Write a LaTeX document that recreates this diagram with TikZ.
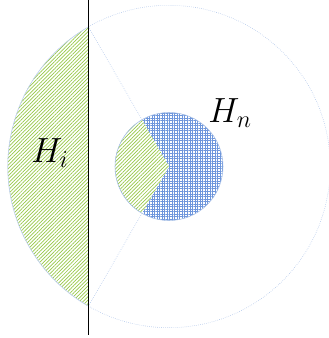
\documentclass[tikz,border=0pt]{standalone}
\usepackage{tikz}
\usepackage{xcolor}
\usetikzlibrary{patterns,patterns.meta}

\definecolor{hgreen}{RGB}{150,200,70}
\definecolor{hblue}{RGB}{110,150,220}
\definecolor{rimblue}{RGB}{165,190,230}

\begin{document}
\begin{tikzpicture}[
  greenhatch/.style={pattern={Lines[angle=45,distance=1.8pt,line width=0.5pt]},
                     pattern color=hgreen},
  bluehatch/.style={pattern={Hatch[angle=0,distance=1.8pt,line width=0.35pt]},
                    pattern color=hblue},
  rim/.style={draw=rimblue, line width=0.4pt, densely dotted},
  label/.style={inner sep=0pt, anchor=base west, font=\fontsize{26}{31}\selectfont}
]
\useasboundingbox (-4.225,-4.2875) rectangle (4.0,4.1625);

\coordinate (o) at (0,0);
\coordinate (a) at (120:4.03);
\coordinate (b) at (240:4.03);
\coordinate (lt) at (-2.015,4.1625);
\coordinate (lb) at (-2.015,-4.2);

% outer region and the cut-off cap
\draw[rim] (o) circle (4.03);
\fill[greenhatch] (a) arc (120:240:4.03) -- cycle;
\draw[rim, solid, draw=rimblue!70] (a) arc (120:240:4.03);

% inner disc
\fill[bluehatch] (o) circle (1.35);
\fill[white] (o) -- (120:1.35) arc (120:240:1.35) -- cycle;
\fill[greenhatch] (o) -- (120:1.35) arc (120:240:1.35) -- cycle;
\draw[draw=rimblue, line width=0.4pt] (o) circle (1.35);

% rays from the chord ends
\draw[rim] (a) -- (120:1.35);
\draw[rim] (b) -- (240:1.35);

% cut line
\draw[black, line width=0.6pt] (lt) -- (lb);

\node[label] (hi) at (-3.45,0.1125) {$H_i$};
\node[label] (hn) at (0.98,1.1125) {$H_n$};
\end{tikzpicture}
\end{document}
